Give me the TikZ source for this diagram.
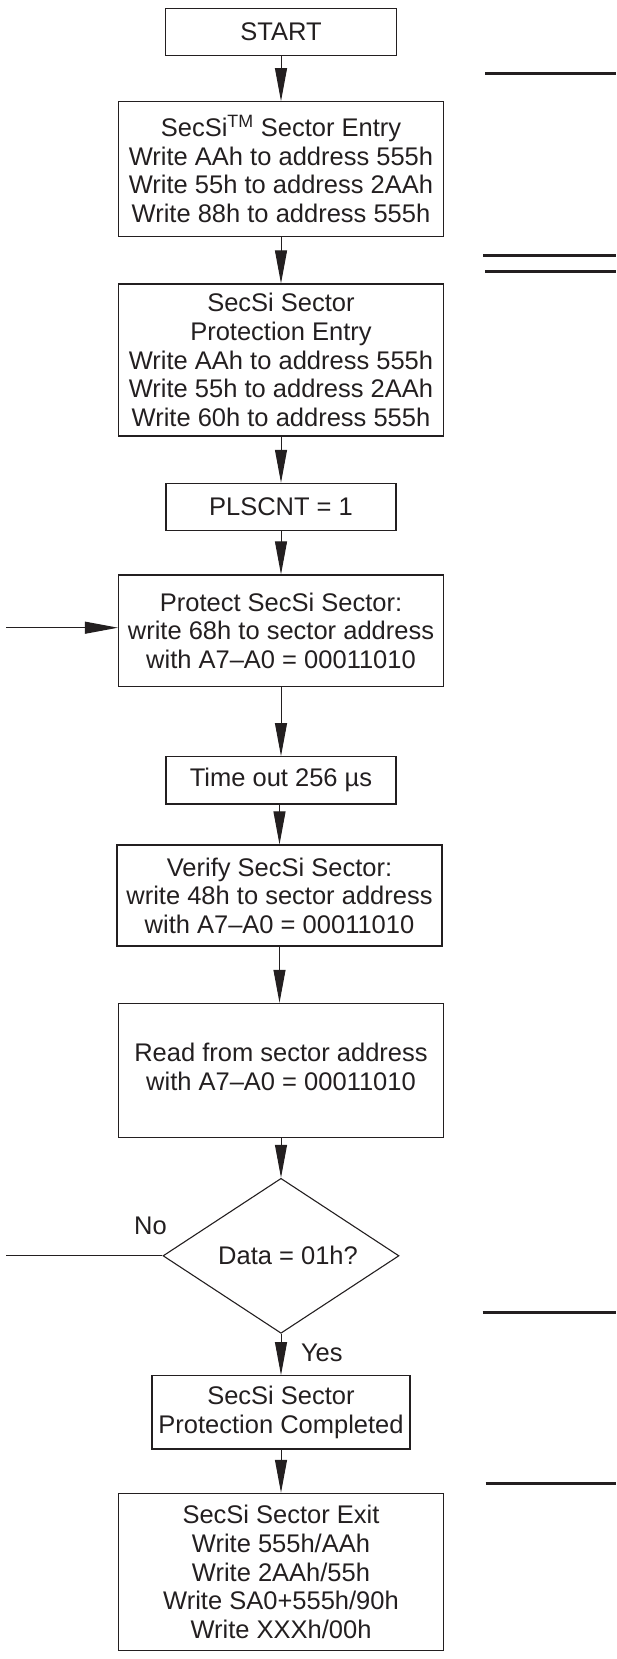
\documentclass[tikz,border=0pt]{standalone}
\usepackage{fontspec}
\setmainfont{Liberation Sans}
\usetikzlibrary{arrows.meta,shapes.geometric}
\definecolor{ink}{HTML}{231F20}
\begin{document}
\begin{tikzpicture}[x=1pt,y=-1pt,
  box/.style={draw=ink, line width=1.1pt, inner sep=0pt, align=center, text=ink,
    font=\fontsize{25.5}{28.6}\selectfont},
  diam/.style={draw=ink, line width=1.1pt, diamond, inner sep=0pt, text=ink,
    minimum width=236pt, minimum height=155pt, aspect=1.52,
    font=\fontsize{25.5}{28.6}\selectfont},
  lbl/.style={inner sep=0pt, text=ink, font=\fontsize{25.5}{28.6}\selectfont},
  flow/.style={draw=ink, line width=1pt, -{Triangle[length=33pt,width=12pt]}},
  plain/.style={draw=ink, line width=1pt},
  rule/.style={draw=ink, line width=3pt}]
\useasboundingbox (0,0) rectangle (616,1659);

\node[box, minimum width=231pt, minimum height=47pt] (start) at (281,31.8) {START};
\node[box, minimum width=325pt, minimum height=134.6pt] (entry) at (281,169)
  {SecSi\textsuperscript{TM} Sector Entry\\Write AAh to address 555h\\Write 55h to address 2AAh\\Write 88h to address 555h};
\node[box, minimum width=325pt, minimum height=152pt] (protentry) at (281,360)
  {SecSi Sector\\Protection Entry\\Write AAh to address 555h\\Write 55h to address 2AAh\\Write 60h to address 555h};
\node[box, minimum width=230pt, minimum height=47.4pt] (plscnt) at (281,507) {PLSCNT = 1};
\node[box, minimum width=325pt, minimum height=111.7pt] (protect) at (281,630.8)
  {Protect SecSi Sector:\\write 68h to sector address\\with A7--A0 = 00011010};
\node[box, minimum width=230pt, minimum height=47.3pt] (timeout) at (281,780.3) {Time out 256 µs};
\node[box, minimum width=325pt, minimum height=101pt] (verify) at (279.5,895.5)
  {Verify SecSi Sector:\\write 48h to sector address\\with A7--A0 = 00011010};
\node[box, minimum width=325pt, minimum height=134.4pt, text depth=8pt] (read) at (281,1070.5)
  {Read from sector address\\with A7--A0 = 00011010};
\node[diam] (dec) at (281,1255.8) {\hspace*{14pt}Data = 01h?};
\node[box, minimum width=258pt, minimum height=73.3pt] (done) at (281,1412.3)
  {SecSi Sector\\Protection Completed};
\node[box, minimum width=325pt, minimum height=157.4pt] (exit) at (281,1572)
  {SecSi Sector Exit\\Write 555h/AAh\\Write 2AAh/55h\\Write SA0+555h/90h\\Write XXXh/00h};

\node[lbl] (no) at (150.5,1226) {No};
\node[lbl] (yes) at (321.8,1353.3) {Yes};

\coordinate (loopin) at (6,627.7);
\coordinate (noend) at (6,1255.8);

\draw[flow] (start) -- (entry);
\draw[flow] (entry) -- (protentry);
\draw[flow] (protentry) -- (plscnt);
\draw[flow] (plscnt) -- (protect);
\draw[flow] (protect) -- (timeout);
\draw[flow] (timeout.south -| verify.north) -- (verify.north);
\draw[flow] (verify.south) -- (verify.south |- read.north);
\draw[flow] (read) -- (dec);
\draw[flow] (dec) -- (done);
\draw[flow] (done) -- (exit);
\draw[flow] (loopin) -- (loopin -| protect.west);
\draw[plain] (dec.west) -- (noend);

\draw[rule] (485,74) -- (616,74);
\draw[rule] (483,255) -- (616,255);
\draw[rule] (485,271.7) -- (616,271.7);
\draw[rule] (482.5,1312.7) -- (616,1312.7);
\draw[rule] (485.6,1483.3) -- (616,1483.3);
\end{tikzpicture}
\end{document}
